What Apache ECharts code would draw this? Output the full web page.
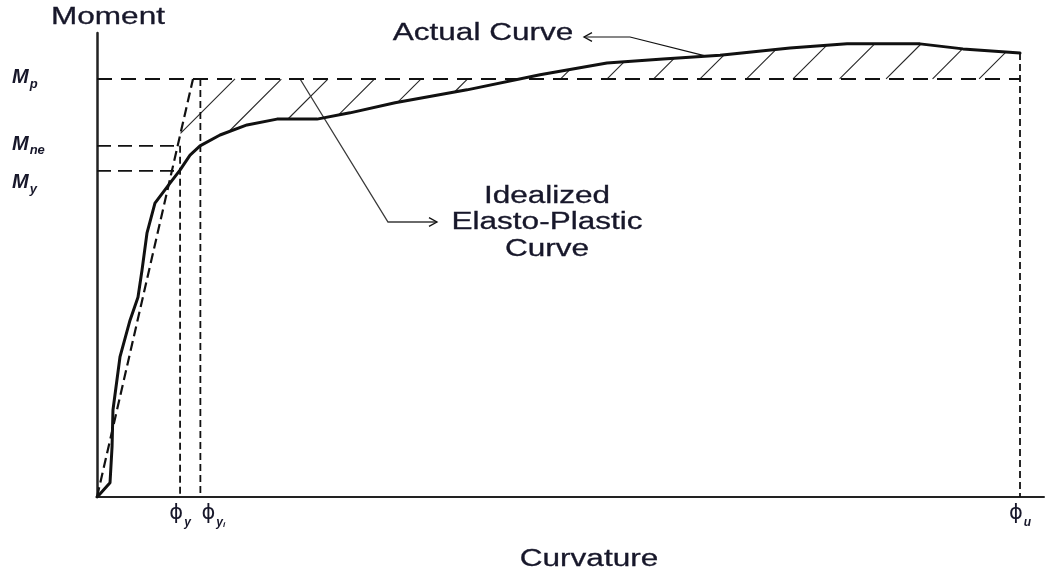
<!DOCTYPE html>
<html>
<head>
<meta charset="utf-8">
<script src="https://cdn.jsdelivr.net/npm/echarts@6/dist/echarts.min.js"></script>
<style>
  html, body { margin: 0; padding: 0; background: #ffffff; }
  #chart { width: 1046px; height: 575px; }
</style>
</head>
<body>
<div id="chart"></div>
<script>
// Moment–curvature response of a section (arbitrary units)
const curvature = [0, 0.22, 1.41, 1.63, 1.73, 2.49, 3.58, 4.44, 4.88, 5.42, 6.28, 7.91, 8.99, 10.08, 11.16,
  13.33, 16.25, 19.5, 23.84, 27.41, 32.29, 40.09, 48.0, 55.25, 61.32, 67.5, 75.08, 81.26, 89.17, 93.82, 100];
const moment = [0, 0.5, 3.4, 12.0, 20.8, 33.5, 42.3, 47.8, 54.3, 63.2, 70.3, 75.1, 78.2, 81.8, 84.0,
  86.6, 89.0, 90.4, 90.4, 91.9, 94.3, 97.4, 101.0, 103.8, 104.8, 105.7, 107.4, 108.4, 108.4, 107.2, 106.2];

// Idealized elasto-plastic curve (elastic branch, then plastic plateau)
const idealCurvature = [0, 10.4, 100];
const idealMoment = [0, 100, 100];

// Characteristic curvatures and moments
const phiY = 9.0, phiYi = 11.2, phiU = 100;
const momentY = 78, momentNe = 84, momentP = 100;

const xTickValues = [phiY, phiYi, phiU];
const xTickLabels = ['{pl|ϕ}{s|y}', '{pr|ϕ}{s|y}{ss|i}', '{p|ϕ}{s|u}'];
const yTickValues = [momentY, momentNe, momentP];
const yTickLabels = ['{m2|M}{s2|y}', '{m|M}{s|ne}', '{m|M}{s|p}'];

const X_MAX = 102.6, Y_MAX = 111;
const INK = '#111111';
const TEXT = '#17172a';
const FONT = '"Liberation Sans", Arial, sans-serif';

function interp(xs, ys, x) {
  if (x <= xs[0]) return ys[0];
  for (let i = 1; i < xs.length; i++) {
    if (x <= xs[i]) {
      const t = (x - xs[i - 1]) / (xs[i] - xs[i - 1]);
      return ys[i - 1] + t * (ys[i] - ys[i - 1]);
    }
  }
  return ys[ys.length - 1];
}

function pairs(xs, ys) { return xs.map((x, i) => [x, ys[i]]); }

function dashed(data, width, dash) {
  return {
    type: 'line', data, symbol: 'none', silent: true, z: 2,
    lineStyle: { color: INK, width, type: dash }
  };
}

// Hatching between the actual and idealized curves, plus the leader arrows
const HATCH_SPACING = 46.5;
const HATCH_PHASE = 42;

function arrowHead(tip, dir, size) {
  return {
    type: 'polyline',
    shape: { points: [[tip[0] - dir * size, tip[1] - size * 0.55], tip, [tip[0] - dir * size, tip[1] + size * 0.55]] },
    style: { stroke: INK, lineWidth: 1.3, fill: null }
  };
}

function renderOverlay(params, api) {
  const children = [];
  const act = x => interp(curvature, moment, x);
  const ideal = x => interp(idealCurvature, idealMoment, x);

  // hatched zone starts where the idealized branch rises above the actual curve
  let x0 = 3;
  while (x0 < phiU && ideal(x0) < act(x0)) x0 += 0.01;

  const samples = [];
  for (let x = x0; x <= phiU + 1e-9; x += 0.02) {
    const a = api.coord([x, act(x)]);
    const b = api.coord([x, ideal(x)]);
    samples.push([a[0], Math.min(a[1], b[1]), Math.max(a[1], b[1])]);
  }
  let cMin = Infinity, cMax = -Infinity;
  samples.forEach(s => { cMin = Math.min(cMin, s[0] + s[1]); cMax = Math.max(cMax, s[0] + s[2]); });
  const corner = api.coord([idealCurvature[1], idealMoment[1]]);
  const cRef = corner[0] + corner[1] + HATCH_PHASE;
  let c = cRef - HATCH_SPACING * Math.ceil((cRef - cMin) / HATCH_SPACING);
  for (; c <= cMax; c += HATCH_SPACING) {
    let run = null;
    const flush = () => {
      if (run && Math.hypot(run[2] - run[0], run[3] - run[1]) > 3) {
        children.push({
          type: 'line',
          shape: { x1: run[0], y1: run[1], x2: run[2], y2: run[3] },
          style: { stroke: '#262626', lineWidth: 1.1 }
        });
      }
      run = null;
    };
    for (const s of samples) {
      const y = c - s[0];
      if (y >= s[1] && y <= s[2]) {
        if (!run) run = [s[0], y, s[0], y];
        else { run[2] = s[0]; run[3] = y; }
      } else flush();
    }
    flush();
  }

  // leader: "Actual Curve"
  const a0 = api.coord([66, act(66)]);
  children.push({
    type: 'polyline',
    shape: { points: [a0, [630, 37], [584, 37]] },
    style: { stroke: INK, lineWidth: 1.2, fill: null }
  });
  children.push(arrowHead([584, 37], -1, 8));

  // leader: idealized curve
  const b0 = api.coord([22, momentP]);
  children.push({
    type: 'polyline',
    shape: { points: [b0, [388, 222], [437, 222]] },
    style: { stroke: '#3a3a3a', lineWidth: 1.3, fill: null }
  });
  children.push(arrowHead([437, 222], 1, 8));

  return { type: 'group', children };
}

function stretchedText(text, x, y) {
  return {
    type: 'text', x, y, scaleX: 1.37, silent: true,
    style: {
      text, fill: TEXT, fontSize: 23, fontFamily: FONT,
      align: 'center', verticalAlign: 'middle',
      textAlign: 'center', textVerticalAlign: 'middle',
      stroke: TEXT, lineWidth: 0.3
    }
  };
}

const subStyle = { fontSize: 13, fontStyle: 'italic', fontWeight: 'bold', fontFamily: FONT, color: TEXT, verticalAlign: 'bottom' };
const mStyle = { fontSize: 20, fontStyle: 'italic', fontWeight: 'bold', fontFamily: FONT, color: TEXT, verticalAlign: 'bottom', padding: [0, 1, 3, 0] };
const phiStyle = { fontSize: 21, fontFamily: '"DejaVu Sans", sans-serif', color: TEXT, verticalAlign: 'bottom', padding: [0, 1, 5, 0] };

const chart = echarts.init(document.getElementById('chart'), null, { renderer: 'canvas' });
chart.setOption({
  animation: false,
  backgroundColor: '#ffffff',
  grid: { left: 97, right: 2, top: 33, bottom: 78, containLabel: false },
  xAxis: {
    type: 'value', min: 0, max: X_MAX,
    splitLine: { show: false },
    axisTick: { show: false },
    axisLine: { show: true, onZero: false, lineStyle: { color: '#222', width: 2 } },
    axisLabel: {
      customValues: xTickValues,
      hideOverlap: false,
      interval: 0,
      margin: 6,
      formatter: v => xTickLabels[xTickValues.indexOf(v)] || '',
      rich: {
        p: phiStyle,
        pl: Object.assign({}, phiStyle, { padding: [0, 1, 5, 0] }),
        pr: Object.assign({}, phiStyle, { padding: [0, 1, 5, 26] }),
        s: Object.assign({}, subStyle, { fontSize: 12 }),
        ss: Object.assign({}, subStyle, { fontSize: 8 })
      }
    }
  },
  yAxis: {
    type: 'value', min: 0, max: Y_MAX,
    splitLine: { show: false },
    axisTick: { show: false },
    axisLine: { show: true, onZero: false, lineStyle: { color: '#222', width: 2.5 } },
    axisLabel: {
      customValues: yTickValues,
      hideOverlap: false,
      align: 'left',
      margin: 85,
      formatter: v => yTickLabels[yTickValues.indexOf(v)] || '',
      rich: {
        m: mStyle,
        s: subStyle,
        m2: Object.assign({}, mStyle, { padding: [26, 1, 3, 0] }),
        s2: subStyle
      }
    }
  },
  graphic: [
    stretchedText('Moment', 108, 18),
    stretchedText('Curvature', 589, 560),
    stretchedText('Actual Curve', 483, 34),
    stretchedText('Idealized', 547, 197),
    stretchedText('Elasto-Plastic', 547, 223),
    stretchedText('Curve', 547, 250)
  ],
  series: [
    {
      type: 'custom', coordinateSystem: 'cartesian2d', data: [[0, 0]],
      clip: false, silent: true, z: 1,
      renderItem: renderOverlay
    },
    // reference lines at the characteristic points
    dashed([[0, momentP], [phiU, momentP]], 2, [15, 9]),
    dashed([[0, momentNe], [phiY, momentNe]], 1.8, [14, 7]),
    dashed([[0, momentY], [phiY, momentY]], 1.8, [14, 7]),
    dashed([[phiY, momentNe], [phiY, 0]], 1.8, [7, 4]),
    dashed([[phiYi, momentP], [phiYi, 0]], 1.8, [7, 4]),
    dashed([[phiU, moment[moment.length - 1]], [phiU, 0]], 1.8, [7, 4]),
    // idealized elastic branch
    dashed(pairs(idealCurvature, idealMoment).slice(0, 2), 2.2, [10, 5]),
    // actual curve
    {
      type: 'line', data: pairs(curvature, moment), symbol: 'none', silent: true, z: 3,
      lineStyle: { color: INK, width: 3, join: 'round', cap: 'round' }
    }
  ]
});
</script>
</body>
</html>
